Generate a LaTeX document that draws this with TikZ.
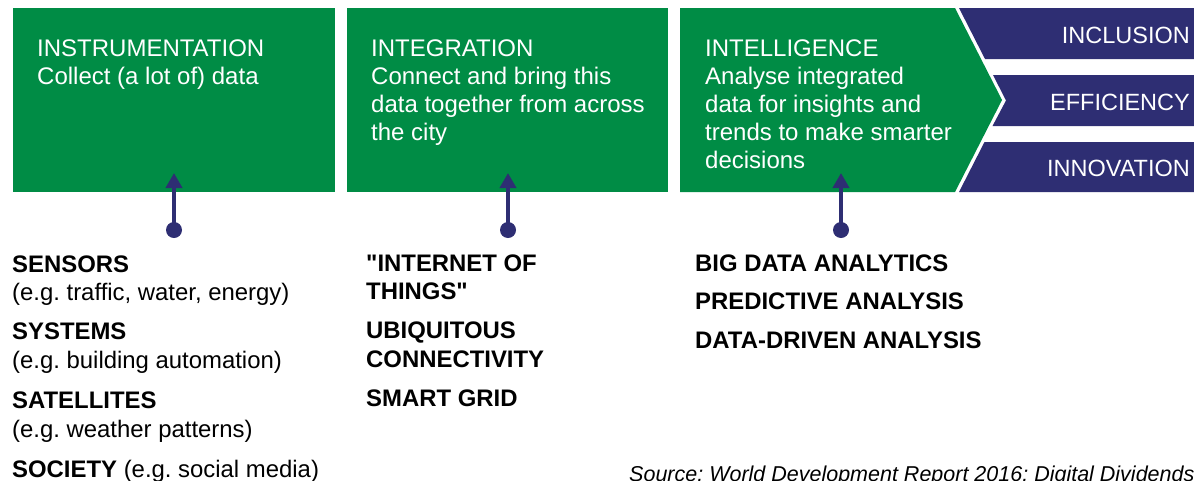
\documentclass[tikz,border=0pt]{standalone}
\usepackage{fontspec}
\setmainfont{Liberation Sans}
\usetikzlibrary{arrows.meta}
\definecolor{wdrgreen}{RGB}{0,140,69}
\definecolor{wdrnavy}{RGB}{46,46,115}
\frenchspacing

\begin{document}
\begin{tikzpicture}[x=1pt,y=-1pt,line join=miter,
	stage/.style={fill=wdrgreen,draw=none},
	band/.style={fill=wdrnavy,draw=none},
	boxtext/.style={anchor=base west,text=white,inner sep=0pt,font=\fontsize{24}{28}\selectfont},
	bandtext/.style={anchor=base east,text=white,inner sep=0pt,font=\fontsize{23.5}{28}\selectfont},
	itemtext/.style={anchor=base west,inner sep=0pt,font=\fontsize{23.9}{28}\selectfont},
	dot/.style={circle,fill=wdrnavy,inner sep=0pt,minimum size=16pt},
	feed/.style={wdrnavy,line width=4pt,-{Triangle[width=16pt,length=15pt]}}]
		\useasboundingbox (0,0) rectangle (1194,480);
		\clip (0,0) rectangle (1194,480);
		% three stages
		\fill [stage] (13,8) rectangle (335,192);
		\fill [stage] (347,8) rectangle (668,192);
		\fill [stage] (680,8) -- (955,8) -- (1002,100) -- (955,192) -- (680,192) -- cycle;
		% outcome bands
		\fill [band] (959,8) -- (1194,8) -- (1194,59) -- (985,59) -- cycle;
		\fill [band] (993,75) -- (1194,75) -- (1194,126) -- (992.5,126) -- (1006,100.5) -- cycle;
		\fill [band] (984.5,142) -- (1194,142) -- (1194,192) -- (959,192) -- cycle;
		\node[bandtext] (inclusion) at (1190,43) {INCLUSION};
		\node[bandtext] (efficiency) at (1190,110) {EFFICIENCY};
		\node[bandtext] (innovation) at (1190,176) {INNOVATION};
		% stage texts
		\node[boxtext] (instr) at (37,56) {INSTRUMENTATION};
		\node[boxtext] (instrA) at (37,84) {Collect (a lot of) data};
		\node[boxtext] (integ) at (371,56) {INTEGRATION};
		\node[boxtext] (integA) at (371,84) {Connect and bring this};
		\node[boxtext] (integB) at (371,112) {data together from across};
		\node[boxtext] (integC) at (371,140) {the city};
		\node[boxtext] (intel) at (705,56) {INTELLIGENCE};
		\node[boxtext] (intelA) at (705,84) {Analyse integrated};
		\node[boxtext] (intelB) at (705,112) {data for insights and};
		\node[boxtext] (intelC) at (705,140) {trends to make smarter};
		\node[boxtext] (intelD) at (705,168) {decisions};
		% feeders
		\node[dot] (d1) at (174,230) {};
		\node[dot] (d2) at (508,230) {};
		\node[dot] (d3) at (841,230) {};
		\coordinate (t1) at (174,173);
		\coordinate (t2) at (508,173);
		\coordinate (t3) at (841,173);
		\draw [feed] (d1.center) -- (t1);
		\draw [feed] (d2.center) -- (t2);
		\draw [feed] (d3.center) -- (t3);
		% lists
		\node[itemtext] (sensors) at (12,272) {\textbf{SENSORS}};
		\node[itemtext] (sensorsA) at (12,300) {(e.g. traffic, water, energy)};
		\node[itemtext] (systems) at (12,339) {\textbf{SYSTEMS}};
		\node[itemtext] (systemsA) at (12,368) {(e.g. building automation)};
		\node[itemtext] (satell) at (12,408) {\textbf{SATELLITES}};
		\node[itemtext] (satellA) at (12,437) {(e.g. weather patterns)};
		\node[itemtext] (society) at (12,477) {\textbf{SOCIETY} (e.g. social media)};
		\node[itemtext] (iot) at (366,271.5) {\textbf{\textquotedbl INTERNET OF}};
		\node[itemtext] (iotA) at (366,299) {\textbf{THINGS\textquotedbl}};
		\node[itemtext] (ubiq) at (366,338) {\textbf{UBIQUITOUS}};
		\node[itemtext] (ubiqA) at (366,367) {\textbf{CONNECTIVITY}};
		\node[itemtext] (grid) at (366,406) {\textbf{SMART GRID}};
		\node[itemtext] (bigdata) at (695,271) {\textbf{BIG DATA ANALYTICS}};
		\node[itemtext] (predict) at (695,309.5) {\textbf{PREDICTIVE ANALYSIS}};
		\node[itemtext] (driven) at (695,348) {\textbf{DATA-DRIVEN ANALYSIS}};
		\node[anchor=base west,inner sep=0pt,font=\fontsize{21.5}{26}\selectfont\itshape] (source) at (629,481) {Source: World Development Report 2016: Digital Dividends};
	\end{tikzpicture}
\end{document}
